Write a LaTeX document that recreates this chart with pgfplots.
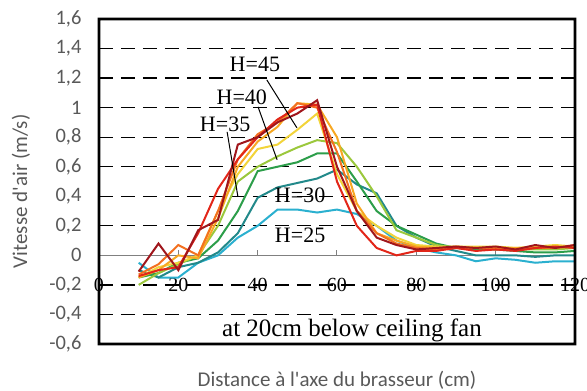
\documentclass[border=0pt]{standalone}
\usepackage{pgfplots}
\pgfplotsset{compat=1.18}
\usepackage{fontspec}
\setmainfont{Liberation Serif}
\newfontfamily\carl{Carlito}
\definecolor{tgray}{RGB}{89,89,89}
\definecolor{c1}{RGB}{43,176,207}
\definecolor{c2}{RGB}{34,137,138}
\definecolor{c3}{RGB}{44,158,74}
\definecolor{c4}{RGB}{155,200,60}
\definecolor{c5}{RGB}{242,212,58}
\definecolor{c6}{RGB}{247,168,35}
\definecolor{c7}{RGB}{243,112,32}
\definecolor{c8}{RGB}{226,38,25}
\definecolor{c9}{RGB}{160,22,28}
\begin{document}
\begin{tikzpicture}
\begin{axis}[name=ax, scale only axis, width=476pt, height=325pt,
  xmin=0, xmax=120, ymin=-0.6, ymax=1.6, clip=false,
  axis lines=box,
  axis line style={line width=2.5pt, draw=black},
  ytick={-0.6,-0.4,-0.2,0,0.2,0.4,0.6,0.8,1,1.2,1.4,1.6},
  yticklabels={{-0,6},{-0,4},{-0,2},0,{0,2},{0,4},{0,6},{0,8},1,{1,2},{1,4},{1,6}},
  yticklabel style={font=\carl\fontsize{20.5}{24}\selectfont, text=tgray, xshift=-14pt},
  xtick={0,20,40,60,80,100,120},
  xticklabels={0,20,40,60,80,100,120},
  xticklabel style={font=\fontsize{20}{24}\selectfont, anchor=center, yshift=59pt},
  major tick length=0pt,
  ymajorgrids,
  grid style={black, line width=1.2pt, dash pattern=on 14pt off 8pt},
  xlabel={Distance à l'axe du brasseur (cm)},
  ylabel={Vitesse d'air (m/s)},
  xlabel style={font=\carl\fontsize{21}{25}\selectfont, text=tgray, at={(axis description cs:0.5,0)}, anchor=center, yshift=-36pt},
  ylabel style={font=\carl\fontsize{21}{25}\selectfont, text=tgray, at={(axis description cs:0,0.47)}, anchor=center, yshift=78pt},
]
\draw[gray, line width=1.6pt] (axis cs:0,0) -- (axis cs:120,0);
\pgfplotsinvokeforeach{20,40,60,80,100}{\draw[gray, line width=1pt] (axis cs:#1,0) -- (axis cs:#1,0.035);}
\addplot[c1, line width=2pt] coordinates {(10,-0.05) (15,-0.15) (20,-0.15) (25,-0.05) (30,0.0) (35,0.12) (40,0.2) (45,0.31) (50,0.31) (55,0.29) (60,0.31) (65,0.28) (70,0.2) (75,0.1) (80,0.05) (85,0.02) (90,0.0) (95,-0.04) (100,-0.02) (105,-0.03) (110,-0.05) (115,-0.04) (120,-0.04)};
\addplot[c2, line width=2pt] coordinates {(10,-0.1) (15,-0.15) (20,-0.08) (25,-0.05) (30,0.02) (35,0.15) (40,0.39) (45,0.46) (50,0.49) (55,0.52) (60,0.58) (65,0.48) (70,0.42) (75,0.2) (80,0.12) (85,0.06) (90,0.03) (95,0.0) (100,0.0) (105,0.0) (110,-0.01) (115,0.0) (120,0.0)};
\addplot[c3, line width=2pt] coordinates {(10,-0.15) (15,-0.12) (20,-0.05) (25,-0.02) (30,0.1) (35,0.3) (40,0.57) (45,0.6) (50,0.63) (55,0.69) (60,0.69) (65,0.5) (70,0.3) (75,0.2) (80,0.14) (85,0.08) (90,0.05) (95,0.04) (100,0.04) (105,0.03) (110,0.02) (115,0.02) (120,0.03)};
\addplot[c4, line width=2pt] coordinates {(10,-0.2) (15,-0.12) (20,-0.06) (25,0.0) (30,0.2) (35,0.5) (40,0.6) (45,0.67) (50,0.73) (55,0.78) (60,0.76) (65,0.6) (70,0.4) (75,0.17) (80,0.12) (85,0.07) (90,0.05) (95,0.05) (100,0.05) (105,0.04) (110,0.04) (115,0.04) (120,0.05)};
\addplot[c5, line width=2pt] coordinates {(10,-0.15) (15,-0.08) (20,-0.05) (25,0.0) (30,0.3) (35,0.55) (40,0.72) (45,0.75) (50,0.85) (55,0.96) (60,0.55) (65,0.3) (70,0.2) (75,0.12) (80,0.07) (85,0.06) (90,0.06) (95,0.06) (100,0.06) (105,0.05) (110,0.06) (115,0.07) (120,0.06)};
\addplot[c6, line width=2pt] coordinates {(10,-0.15) (15,-0.1) (20,0.0) (25,-0.02) (30,0.25) (35,0.6) (40,0.77) (45,0.87) (50,1.03) (55,1.02) (60,0.8) (65,0.35) (70,0.15) (75,0.1) (80,0.06) (85,0.05) (90,0.06) (95,0.05) (100,0.05) (105,0.05) (110,0.05) (115,0.05) (120,0.06)};
\addplot[c7, line width=2pt] coordinates {(10,-0.13) (15,-0.06) (20,0.07) (25,0.0) (30,0.3) (35,0.65) (40,0.82) (45,0.9) (50,1.03) (55,1.0) (60,0.7) (65,0.3) (70,0.15) (75,0.08) (80,0.05) (85,0.04) (90,0.05) (95,0.05) (100,0.04) (105,0.04) (110,0.05) (115,0.05) (120,0.07)};
\addplot[c8, line width=2pt] coordinates {(10,-0.14) (15,-0.1) (20,-0.08) (25,0.15) (30,0.45) (35,0.65) (40,0.8) (45,0.92) (50,1.0) (55,1.02) (60,0.5) (65,0.2) (70,0.05) (75,0.0) (80,0.03) (85,0.03) (90,0.05) (95,0.03) (100,0.04) (105,0.03) (110,0.05) (115,0.06) (120,0.05)};
\addplot[c9, line width=2pt] coordinates {(10,-0.11) (15,0.08) (20,-0.1) (25,0.17) (30,0.24) (35,0.75) (40,0.8) (45,0.9) (50,0.96) (55,1.05) (60,0.6) (65,0.3) (70,0.12) (75,0.07) (80,0.04) (85,0.05) (90,0.06) (95,0.05) (100,0.06) (105,0.04) (110,0.07) (115,0.05) (120,0.07)};
\draw[black, line width=1pt] (axis cs:42.3,1.188) -- (axis cs:49.9,0.863);
\draw[black, line width=1pt] (axis cs:40.1,1.005) -- (axis cs:44.9,0.647);
\draw[black, line width=1pt] (axis cs:32.3,0.836) -- (axis cs:35.0,0.40);
\node[font=\fontsize{22}{26}\selectfont, inner sep=0pt] at (axis cs:39.3,1.296) {H=45};
\node[font=\fontsize{22}{26}\selectfont, inner sep=0pt] at (axis cs:36.0,1.073) {H=40};
\node[font=\fontsize{22}{26}\selectfont, inner sep=0pt] at (axis cs:31.8,0.890) {H=35};
\node[font=\fontsize{22}{26}\selectfont, inner sep=0pt] at (axis cs:50.7,0.409) {H=30};
\node[font=\fontsize{22}{26}\selectfont, inner sep=0pt] at (axis cs:50.7,0.139) {H=25};
\node[font=\fontsize{25}{30}\selectfont, inner sep=0pt, anchor=base west] at (axis cs:31,-0.552) {at 20cm below ceiling fan};
\fill[black, even odd rule] ([xshift=-1.4pt,yshift=-1.4pt]rel axis cs:0,0) rectangle ([xshift=1.4pt,yshift=1.4pt]rel axis cs:1,1) ([xshift=1.4pt,yshift=1.4pt]rel axis cs:0,0) rectangle ([xshift=-1.4pt,yshift=-1.4pt]rel axis cs:1,1);
\end{axis}
\pgfresetboundingbox
\path (ax.south west) ++(-99pt,-47pt) rectangle ++(587pt,391pt);
\end{tikzpicture}
\end{document}
